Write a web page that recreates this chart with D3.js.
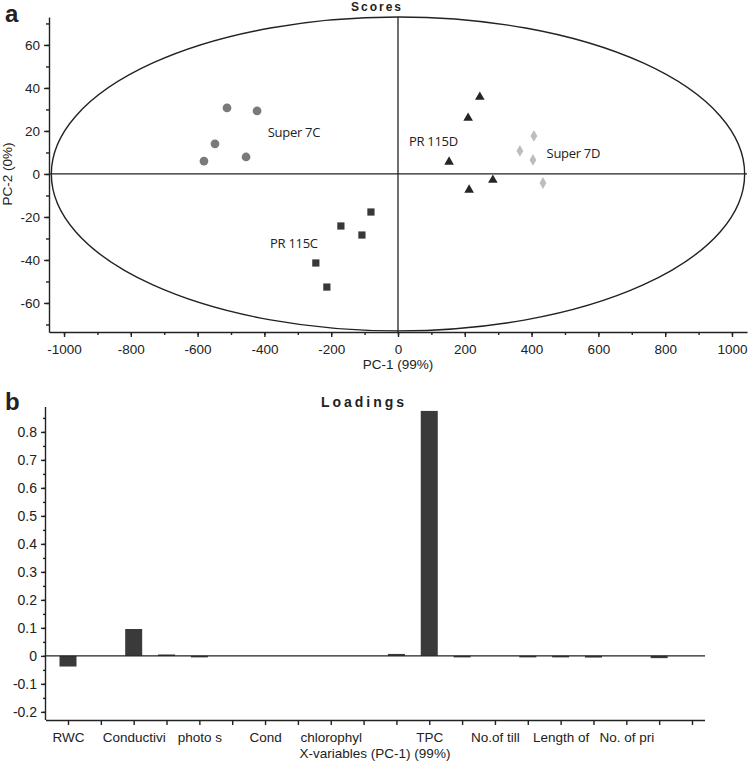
<!DOCTYPE html>
<html>
<head>
<meta charset="utf-8">
<script src="https://cdn.jsdelivr.net/npm/d3@7"></script>
<style>
  body { margin: 0; background: #fff; }
  svg { display: block; }
  text { font-family: "Liberation Sans", Arial, sans-serif; fill: #222; }
  .axis path, .axis line { stroke: #222; stroke-width: 1.4; }
  .axis text { font-size: 13.5px; fill: #222; }
</style>
</head>
<body>
<div id="chart"></div>
<script>
// scores plot (PC-1 vs PC-2)
var super7C  = [[-512, 30.7], [-422, 29.3], [-548, 14], [-581, 6], [-455, 7.9]];
var pr115C   = [[-81, -17.7], [-171, -24.2], [-108, -28.4], [-246, -41.4], [-213, -52.6]];
var pr115D   = [[245, 35.8], [210, 26], [153, 5.6], [284, -2.8], [213, -7.4]];
var super7D  = [[407, 17.7], [365, 10.7], [404, 6.5], [434, -4.2]];
var groupLabels = [
  {text: "Super 7C", x: -390, y: 17},
  {text: "PR 115C",  x: -383, y: -34.5},
  {text: "PR 115D",  x: 33,   y: 13},
  {text: "Super 7D", x: 445,  y: 7.5}
];
var ellipseRadius = [1038, 73];
var scoreXTicks = d3.range(-1000, 1001, 200);
var scoreYTicks = d3.range(-60, 61, 20);

// loadings (PC-1)
var loadings = [-0.038, 0, 0.096, 0.005, -0.004, 0, 0, 0, 0, 0,
                0.007, 0.875, -0.005, 0, -0.001, -0.001, -0.006, 0, -0.008, 0];
var varLabels = ["RWC", "", "Conductivi", "", "photo s", "", "Cond", "", "chlorophyl", "",
                 "", "TPC", "", "No.of till", "", "Length of", "", "No. of pri", "", ""];
var loadYTicks = [-0.2, -0.1, 0, 0.1, 0.2, 0.3, 0.4, 0.5, 0.6, 0.7, 0.8];

var W = 750, H = 762;
var svg = d3.select("#chart").append("svg").attr("width", W).attr("height", H);

/* ---------- a: scores ---------- */
var x = d3.scaleLinear().domain([-1045, 1045]).range([49, 747]);
var y = d3.scaleLinear().domain([-73.5, 73]).range([332, 17]);

var gTop = svg.append("g");

gTop.append("text").attr("x", 5).attr("y", 22)
  .style("font-size", "24px").style("font-weight", "bold").text("a");
gTop.append("text").attr("x", 377).attr("y", 11).attr("text-anchor", "middle")
  .style("font-size", "12px").style("font-weight", "bold").style("letter-spacing", "2px")
  .text("Scores");

// minor ticks first
gTop.append("g").attr("class", "axis").attr("transform", "translate(0,332)")
  .call(d3.axisBottom(x).tickValues(d3.range(-1000, 1001, 100)).tickSize(3).tickFormat(""))
  .call(function(g) { g.select(".domain").remove(); });
gTop.append("g").attr("class", "axis").attr("transform", "translate(49,0)")
  .call(d3.axisLeft(y).tickValues(d3.range(-70, 71, 10)).tickSize(3).tickFormat(""))
  .call(function(g) { g.select(".domain").remove(); });

gTop.append("g").attr("class", "axis").attr("transform", "translate(0,332)")
  .call(d3.axisBottom(x).tickValues(scoreXTicks).tickSize(5).tickSizeOuter(0).tickFormat(d3.format("d")))
  .call(function(g) { g.selectAll("text").attr("dy", "1.05em"); });
gTop.append("g").attr("class", "axis").attr("transform", "translate(49,0)")
  .call(d3.axisLeft(y).tickValues(scoreYTicks).tickSize(5).tickSizeOuter(0).tickFormat(d3.format("d")))
  .call(function(g) { g.selectAll("text").attr("x", -9); });
gTop.selectAll(".axis text").text(function() { return this.textContent.replace("\u2212", "-"); });

// zero lines
gTop.append("line").attr("x1", x.range()[0]).attr("x2", x.range()[1])
  .attr("y1", y(0)).attr("y2", y(0)).attr("stroke", "#222").attr("stroke-width", 1.3);
gTop.append("line").attr("x1", x(0)).attr("x2", x(0))
  .attr("y1", y.range()[1]).attr("y2", y.range()[0]).attr("stroke", "#222").attr("stroke-width", 1.3);

gTop.append("ellipse")
  .attr("cx", x(0)).attr("cy", y(0))
  .attr("rx", x(ellipseRadius[0]) - x(0)).attr("ry", y(0) - y(ellipseRadius[1]))
  .attr("fill", "none").attr("stroke", "#222").attr("stroke-width", 1.4);

gTop.append("text").attr("x", x(0)).attr("y", 369).attr("text-anchor", "middle")
  .style("font-size", "13.5px").text("PC-1 (99%)");
gTop.append("text").attr("transform", "translate(12," + y(0) + ") rotate(-90)")
  .attr("text-anchor", "middle").style("font-size", "13.5px").text("PC-2 (0%)");

function drawGroup(data, type, size, color) {
  gTop.append("g").selectAll("path").data(data).enter().append("path")
    .attr("transform", function(d) { return "translate(" + x(d[0]) + "," + y(d[1]) + ")"; })
    .attr("d", d3.symbol().type(type).size(size))
    .attr("fill", color);
}
drawGroup(super7C, d3.symbolCircle, 60, "#7a7a7a");
drawGroup(pr115C, d3.symbolSquare, 52, "#383838");
drawGroup(pr115D, d3.symbolTriangle, 40, "#262626");
drawGroup(super7D, d3.symbolDiamond, 40, "#bdbdbd");

gTop.selectAll("text.lbl").data(groupLabels).enter().append("text").attr("class", "lbl")
  .attr("x", function(d) { return x(d.x); }).attr("y", function(d) { return y(d.y); })
  .style("font-family", "'Open Sans', sans-serif").style("font-size", "13px")
  .style("letter-spacing", "-0.3px")
  .text(function(d) { return d.text; });

/* ---------- b: loadings ---------- */
var bx = d3.scalePoint().domain(d3.range(loadings.length)).range([68, 692]);
var by = d3.scaleLinear().domain([-0.229, 0.889]).range([720, 407]);

var gBot = svg.append("g");
gBot.append("text").attr("x", 5).attr("y", 410)
  .style("font-size", "24px").style("font-weight", "bold").text("b");
gBot.append("text").attr("x", 364).attr("y", 407).attr("text-anchor", "middle")
  .style("font-size", "14px").style("font-weight", "bold").style("letter-spacing", "3px")
  .text("Loadings");

gBot.append("g").attr("class", "axis").attr("transform", "translate(46,0)")
  .call(d3.axisLeft(by).tickValues(d3.range(-0.2, 0.86, 0.05)).tickSize(3).tickFormat(""))
  .call(function(g) { g.select(".domain").remove(); });

gBot.append("g").attr("class", "axis").attr("transform", "translate(46,0)")
  .call(d3.axisLeft(by).tickValues(loadYTicks).tickSize(5).tickSizeOuter(0)
    .tickFormat(function(d) { return d === 0 ? "0" : d3.format(".1f")(d).replace("\u2212", "-"); }))
  .call(function(g) {
    g.select(".domain").attr("d", "M-0.5," + by.range()[1] + "V" + by.range()[0]);
    g.selectAll("text").attr("x", -9).style("font-size", "14px");
  });

gBot.append("g").attr("class", "axis").attr("transform", "translate(0,720)")
  .call(d3.axisBottom(bx).tickSize(5).tickSizeOuter(0).tickFormat(function(i) { return varLabels[i]; }))
  .call(function(g) {
    g.select(".domain").attr("d", "M46,0.5H705");
    g.selectAll("text").attr("y", 9).attr("dy", "0.95em").style("font-size", "13.5px");
  });

// zero loadings draw no bar
var barData = loadings.map(function(d, i) { return {v: d, i: i}; })
  .filter(function(d) { return d.v !== 0; });

gBot.selectAll("rect.bar").data(barData)
  .enter().append("rect").attr("class", "bar")
  .attr("x", function(d) { return bx(d.i) - 8.5; })
  .attr("width", 17)
  .attr("y", function(d) { return by(Math.max(0, d.v)); })
  .attr("height", function(d) { return Math.max(1.5, Math.abs(by(d.v) - by(0))); })
  .attr("fill", "#3a3a3a");

gBot.append("line").attr("x1", 46).attr("x2", 705).attr("y1", by(0)).attr("y2", by(0))
  .attr("stroke", "#222").attr("stroke-width", 1.4);

gBot.append("text").attr("x", 375).attr("y", 758).attr("text-anchor", "middle")
  .style("font-size", "13.5px").text("X-variables (PC-1) (99%)");
</script>
</body>
</html>
